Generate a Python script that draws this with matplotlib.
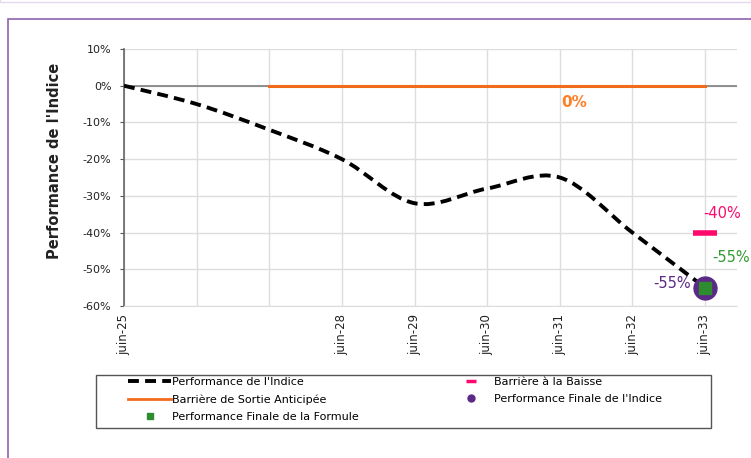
import matplotlib.pyplot as plt
from matplotlib.path import Path
from matplotlib.patches import PathPatch, Rectangle
from matplotlib.lines import Line2D
import numpy as np

plt.rcParams['font.family'] = ['DejaVu Sans']

# données
dates = ['juin-25', 'juin-26', 'juin-27', 'juin-28', 'juin-29', 'juin-30', 'juin-31', 'juin-32', 'juin-33']
tick_labels = ['juin-25', '', '', 'juin-28', 'juin-29', 'juin-30', 'juin-31', 'juin-32', 'juin-33']
perf_indice = [0.0, -0.05, -0.12, -0.20, -0.32, -0.28, -0.25, -0.40, -0.55]
barriere_sortie = [0.0, 0.0, 0.0, 0.0, 0.0, 0.0, 0.0]   # de juin-27 à juin-33
barriere_baisse = -0.40
perf_finale_indice = -0.55
perf_finale_formule = -0.55

W, H = 751, 458
fig = plt.figure(figsize=(W/100, H/100), dpi=100)
ax = fig.add_axes([124/W, 1-306/H, (737-124)/W, (306-49)/H])

# cadre violet
fig.patches.append(Rectangle((8/W, -0.1), 1.1, 1-19/H+0.1, transform=fig.transFigure,
                             fill=False, edgecolor='#8e63ad', lw=1.2, zorder=0))
fig.patches.append(Rectangle((0, 1-1.5/H), 1, 0.01, transform=fig.transFigure,
                             fill=False, edgecolor='#e6d8ee', lw=1, zorder=0))
# cadre de la légende
fig.patches.append(Rectangle((96/W, 1-428/H), (711-96)/W, 53/H, transform=fig.transFigure,
                             fill=False, edgecolor='#555555', lw=1, zorder=0))

x = np.arange(len(dates))
dash = (0, (2.8, 1.6))

# courbe lissée (style Excel)
y = np.array(perf_indice)
pts = np.column_stack([x, y])
verts = [pts[0]]
codes = [Path.MOVETO]
for i in range(len(pts) - 1):
    p0 = pts[i - 1] if i > 0 else pts[i]
    p1 = pts[i]
    p2 = pts[i + 1]
    p3 = pts[i + 2] if i + 2 < len(pts) else pts[i + 1]
    c1 = p1 + (p2 - p0) / 6
    c2 = p2 - (p3 - p1) / 6
    verts += [c1, c2, p2]
    codes += [Path.CURVE4] * 3
ax.add_patch(PathPatch(Path(verts, codes), fill=False, edgecolor='black', lw=2.8,
                       linestyle=dash, zorder=4))

ax.axhline(0, color='#7f7f7f', lw=1.2, zorder=2)
ax.plot(x[2:], barriere_sortie, color='#f26b1d', lw=2.2, zorder=3)
ax.plot([x[-1]], [barriere_baisse], marker='_', color='#ff0a6c', ms=17, mew=4, ls='none', zorder=5)
ax.plot([x[-1]], [perf_finale_indice], marker='o', color='#5a2a86', ms=16.5, ls='none', zorder=5)
ax.plot([x[-1]], [perf_finale_formule], marker='s', color='#2e8b2e', ms=8, ls='none', zorder=6)

ax.text(6.2, -0.057, '0%', color='#ff7f27', fontsize=11, fontweight='bold', ha='center')
ax.text(x[-1] + 0.23, barriere_baisse + 0.04, '-40%', color='#ff0a6c', fontsize=10.5, ha='center')
ax.text(x[-1] + 0.36, -0.48, '-55%', color='#339933', fontsize=10.5, ha='center')
ax.text(x[-1] - 0.46, perf_finale_indice, '-55%', color='#5a2a86', fontsize=10.5, ha='center')

ax.set_xlim(0, 8.44)
ax.set_ylim(-0.6, 0.1)
ax.set_yticks(np.arange(-0.6, 0.11, 0.1))
ax.set_yticklabels([f'{v:.0f}%' for v in np.arange(-60, 11, 10)], fontsize=8, color='#222222')
ax.set_xticks(x)
ax.set_xticklabels(tick_labels, rotation=90, fontsize=8.5, color='#222222')
ax.grid(True, color='#dddddd', lw=1)
ax.set_axisbelow(True)
ax.tick_params(axis='x', length=0, pad=6)
ax.tick_params(axis='y', length=3, color='#555555', pad=6)
for s in ['top', 'right']:
    ax.spines[s].set_visible(False)
ax.spines['bottom'].set_color('#dddddd')
ax.spines['left'].set_color('#666666')
ax.spines['left'].set_linewidth(1.2)
fig.text(55/W, 1-161/H, "Performance de l'Indice", fontsize=10.5, fontweight='bold',
         color='#222222', rotation=90, ha='center', va='center')

handles = [
    Line2D([], [], color='black', lw=2.8, linestyle=dash),
    Line2D([], [], color='#f26b1d', lw=2),
    Line2D([], [], marker='s', color='#2e8b2e', ls='none', ms=5),
    Line2D([], [], marker='_', color='#ff0a6c', ls='none', ms=7, mew=2.5),
    Line2D([], [], marker='o', color='#5a2a86', ls='none', ms=5),
]
labels = ["Performance de l'Indice", 'Barrière de Sortie Anticipée', 'Performance Finale de la Formule',
          'Barrière à la Baisse', "Performance Finale de l'Indice"]
leg = fig.legend(handles, labels, ncol=2, loc='upper left',
                 bbox_to_anchor=(128/W, 1-377/H), fontsize=8, frameon=False,
                 handlelength=3.9, handletextpad=0.1, columnspacing=8.1,
                 borderpad=0, labelspacing=0.65, borderaxespad=0)

fig.savefig('out.png', dpi=100)
